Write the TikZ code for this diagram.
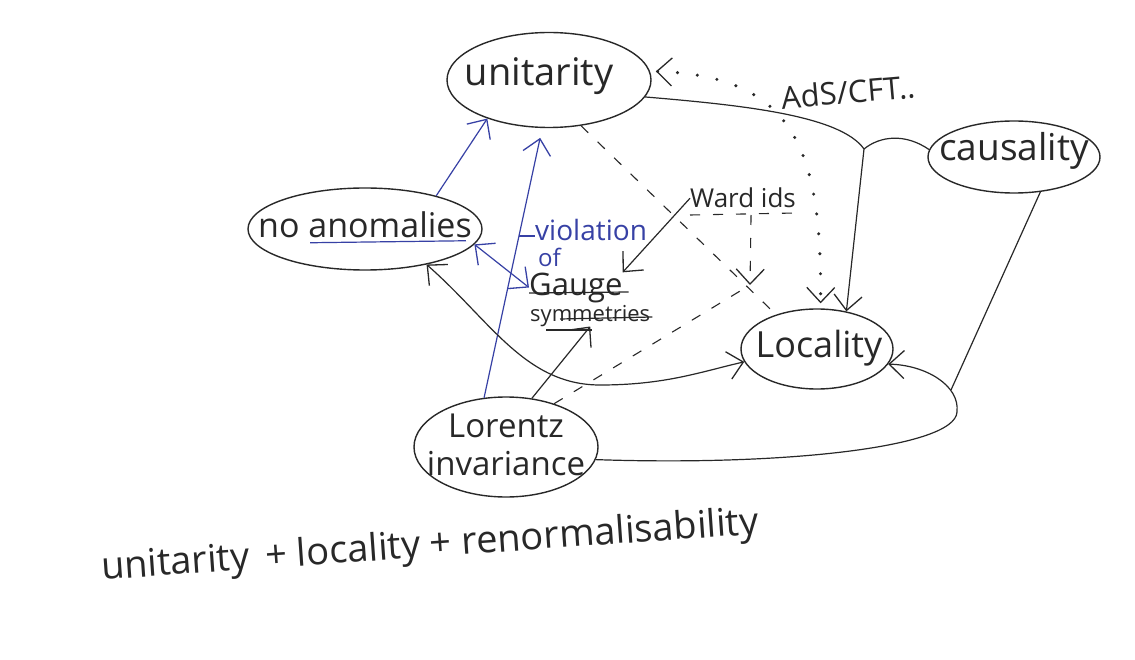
\documentclass[tikz,border=0pt]{standalone}
\usepackage{fontspec}
\setmainfont{Open Sans}
\usetikzlibrary{shapes.geometric,arrows.meta,calc}
\definecolor{ink}{RGB}{40,40,40}
\definecolor{bink}{RGB}{55,65,165}
\begin{document}
\begin{tikzpicture}[x=1pt,y=-1pt,
  bubble/.style={ellipse, draw=ink, line width=1.4pt, inner sep=0pt},
  label/.style={text=ink, inner sep=0pt, align=center},
  hand/.style={text=ink, inner sep=0pt},
  con/.style={draw=ink, line width=1.2pt},
  blueline/.style={draw=bink, line width=1.2pt},
  dashline/.style={draw=ink, line width=1.1pt, dash pattern=on 10pt off 13pt},
  dotline/.style={draw=ink, line width=3.4pt, line cap=round, dash pattern=on 0pt off 20pt},
  headend/.style={-{Straight Barb[length=15pt,width=28pt,line width=1.3pt]}},
  headboth/.style={{Straight Barb[length=15pt,width=28pt,line width=1.3pt]}-{Straight Barb[length=15pt,width=28pt,line width=1.3pt]}}]
\useasboundingbox (0,0) rectangle (1135,660);
\fill[white] (0,0) rectangle (1135,660);

% bubbles
\node[bubble, minimum width=204pt, minimum height=95pt] (uni) at (549,80) {};
\node[bubble, minimum width=234pt, minimum height=82pt] (noan) at (365,229) {};
\node[bubble, minimum width=172pt, minimum height=72pt] (caus) at (1014,157) {};
\node[bubble, minimum width=152pt, minimum height=80pt] (loc) at (817,349) {};
\node[bubble, minimum width=184pt, minimum height=100pt] (lor) at (506,447) {};

% bubble texts
\node[label, font=\fontsize{38}{44}\selectfont] (unit) at ($(uni)+(-10,-4)$) {unitarity};
\node[label, font=\fontsize{34}{40}\selectfont] (noant) at ($(noan)+(0,-4)$) {no anomalies};
\node[label, font=\fontsize{37}{42}\selectfont] (caust) at ($(caus)+(0,-6)$) {causality};
\node[label, font=\fontsize{36}{40}\selectfont] (loct) at ($(loc)+(2,-1)$) {Locality};
\node[label, font=\fontsize{33}{38}\selectfont] (lort) at ($(lor)+(0,-2)$) {Lorentz\\invariance};

% free texts
\node[hand, text=bink, anchor=base west, font=\fontsize{28}{30}\selectfont] (viol) at (535,241) {violation};
\node[hand, text=bink, anchor=base west, font=\fontsize{24}{26}\selectfont] (of) at (538,267) {of};
\node[hand, anchor=base west, font=\fontsize{31}{34}\selectfont] (gauge) at (529,295) {Gauge};
\node[hand, anchor=base west, font=\fontsize{22}{24}\selectfont] (sym) at (530,321) {symmetries};
\node[hand, anchor=base west, font=\fontsize{26}{28}\selectfont] (ward) at (690,208) {Ward ids};
\node[hand, rotate=5, font=\fontsize{31}{33}\selectfont] (ads) at (848,92) {AdS/CFT..};
\node[hand, rotate=4, font=\fontsize{38}{42}\selectfont] (foot) at (430,547) {unitarity \,+ locality + renormalisability};

% underlines
\draw[blueline] ($(noant.base west)+(52,5)$) -- ($(noant.base east)+(-6,3)$);
\draw[con] ($(gauge.base west)+(0,-2)$) -- ($(gauge.base east)+(6,-3)$);
\draw[con] ($(sym.base west)+(16,9)$) -- ($(sym.base west)+(62,9)$);
\draw[con] ($(sym.base west)+(30,-2)$) -- ($(sym.base east)+(2,-4)$);

% blue connectors
\draw[blueline,headend] (noan.25) -- (uni.212);
\draw[blueline,headend,shorten >=10pt] (lor.114) -- coordinate[pos=0.6] (tk) (uni.262);
\draw[blueline] (tk) -- (viol.west |- tk);
\draw[blueline,headboth] (noan.-8) -- (gauge.west);

% solid black
\draw[con,headend] (ward.west) -- (gauge.north east);
\draw[con,headend] (lor.62) -- (sym.south);
\coordinate (J) at (864,149);
\draw[con] (uni.-10) .. controls (740,105) and (840,115) .. (J);
\draw[con] (caus.175) .. controls (905,133) and (880,136) .. (J);
\draw[con,headend] (J) -- (loc.52);
\draw[con,headboth] (noan.-30) .. controls (490,320) and (525,385) .. (600,385) .. controls (665,385) and (700,372) .. (loc.190);
\coordinate (K) at (951,390);
\draw[con,headend] (lor.-8) .. controls (780,466) and (955,448) .. (957,412) .. controls (960,385) and (925,365) .. (loc.-12);
\draw[con] (caus.-53) -- (K);

% dashed
\coordinate (X) at (750,285);
\draw[dashline] (uni.-55) -- (loc.140);
\draw[dashline] ($(ward.base west)+(0,7)$) -- ($(ward.base east)+(0,5)$);
\draw[dashline,headend] ($(ward.base)+(8,7)$) -- (X);
\draw[dashline] (lor.42) -- (X);

% dotted
\draw[dotline,headboth,shorten <=6pt,shorten >=5pt] (uni.5) .. controls (795,76) and (822,150) .. (loc.85);
\end{tikzpicture}
\end{document}
